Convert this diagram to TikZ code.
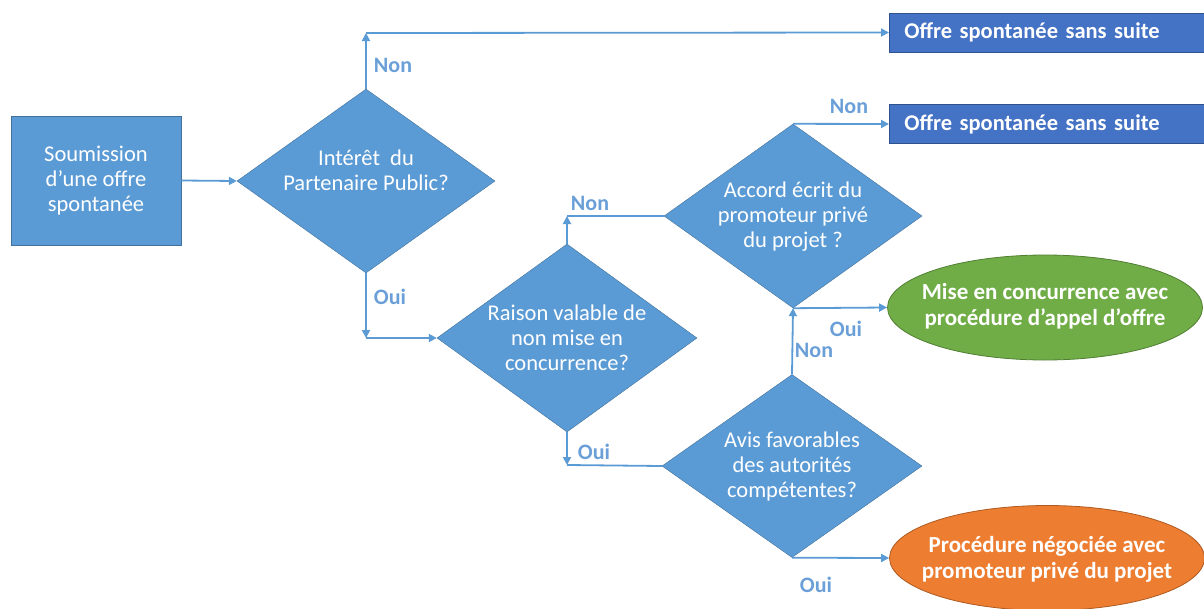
\documentclass[tikz,border=0pt]{standalone}
\usepackage{fontspec}
\setmainfont{Carlito}
\usetikzlibrary{shapes.geometric,arrows.meta}
\definecolor{bmid}{HTML}{5B9BD5}
\definecolor{bdark}{HTML}{4472C4}
\definecolor{bline}{HTML}{41719C}
\definecolor{bdline}{HTML}{2F528F}
\definecolor{gfill}{HTML}{70AD47}
\definecolor{gline}{HTML}{507E32}
\definecolor{ofill}{HTML}{ED7D31}
\definecolor{oline}{HTML}{AE5A21}
\definecolor{lab}{HTML}{6A9FD8}
\begin{document}
\begin{tikzpicture}[x=1pt,y=-1pt,
  conn/.style={draw=bmid, line width=1.8pt},
  arr/.style={conn,-{Triangle[length=8pt,width=8pt]}},
  dia/.style={diamond, fill=bmid, draw=bline, line width=0.4pt, minimum width=258pt, minimum height=184pt, inner sep=0pt},
  dtext/.style={text=white, align=center, font=\fontsize{22.5}{25}\selectfont},
  etext/.style={text=white, align=center, font=\fontsize{23}{26}\selectfont\bfseries},
  lbl/.style={text=lab, font=\fontsize{22}{24}\selectfont\bfseries, inner sep=0pt},
  endbox/.style={rectangle, fill=bdark, draw=bdline, line width=0.6pt, minimum height=39pt, text width=300pt, inner xsep=15pt, inner ysep=0pt, align=left, text=white, font=\fontsize{22.5}{25}\selectfont\bfseries},
  endell/.style={ellipse, line width=0.8pt, minimum width=315pt, minimum height=105pt, inner sep=0pt}
]
\useasboundingbox (0,0) rectangle (1204,608);

\node[rectangle, fill=bmid, draw=bline, line width=0.6pt, minimum width=170pt, minimum height=129pt, text=white, align=center, font=\fontsize{22.5}{25}\selectfont] (start) at (96,180.5) {Soumission\\d’une offre\\spontanée};

\node[dia, label={[dtext, yshift=11pt]center:Intérêt\ \ du\\Partenaire Public?}] (d1) at (366,181) {};
\node[dia, minimum width=260pt, minimum height=188pt, label={[dtext]center:Raison valable de\\non mise en\\concurrence?}] (d2) at (567,338) {};
\node[dia, label={[dtext, yshift=-1pt]center:Accord écrit du\\promoteur privé\\du projet ?}] (d3) at (793,216) {};
\node[dia, minimum width=260pt, minimum height=183pt, label={[dtext]center:Avis favorables\\des autorités\\compétentes?}] (d4) at (792,466) {};

\node[endbox, anchor=west] (b1) at (889,32.5) {Offre spontanée sans suite};
\node[endbox, anchor=west] (b2) at (889,124) {Offre spontanée sans suite};
\node[endell, fill=gfill, draw=gline, label={[etext, yshift=1pt]center:Mise en concurrence avec\\procédure d’appel d’offre}] (e1) at (1045,307.5) {};
\node[endell, fill=ofill, draw=oline, label={[etext, yshift=-1pt]center:Procédure négociée avec\\promoteur privé du projet}] (e2) at (1047,558) {};

\coordinate (c1) at (366,33);
\coordinate (c2) at (366,338);
\coordinate (c3) at (567,216);
\coordinate (c4) at (567,465);

\draw[arr] (start.east) -- (d1.west);
\draw[arr] (d1.north) -- (c1);
\draw[arr] (c1) -- (b1.west);
\draw[arr] (d1.south) -- (c2);
\draw[arr] (c2) -- (d2.west);
\draw[arr] (d2.north) -- (c3);
\draw[conn] (c3) -- (d3.west);
\draw[arr] (d3.north) -- (b2.west);
\draw[arr] (d4.north) -- (d3.south);
\draw[arr] (d3.south) -- (e1.west);
\draw[arr] (d2.south) -- (c4);
\draw[conn] (c4) -- (d4.west);
\draw[arr] (d4.south) -- (e2.west);

\node[lbl] (l1) at (393,65) {Non};
\node[lbl] (l2) at (390,297) {Oui};
\node[lbl] (l3) at (590,203) {Non};
\node[lbl] (l4) at (849,106) {Non};
\node[lbl] (l5) at (846,329) {Oui};
\node[lbl] (l6) at (814,350) {Non};
\node[lbl] (l7) at (594,452) {Oui};
\node[lbl] (l8) at (816,585) {Oui};
\end{tikzpicture}
\end{document}
